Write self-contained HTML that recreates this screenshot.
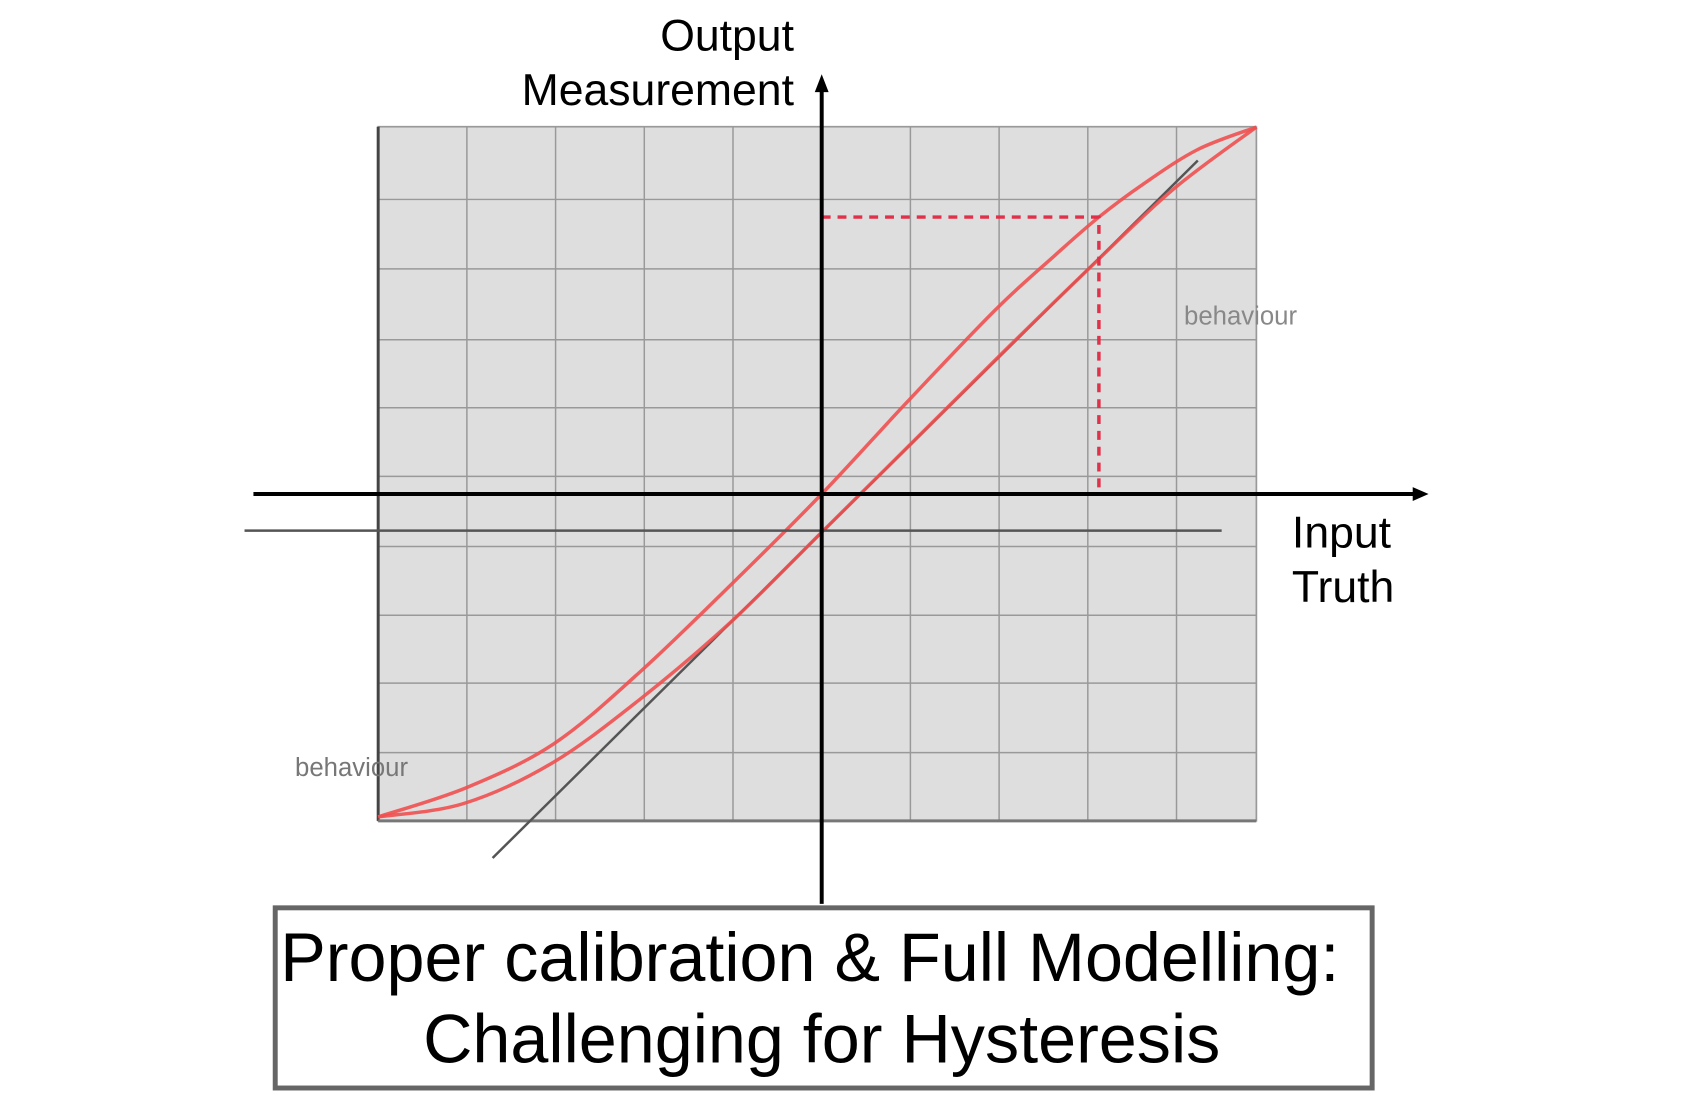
<!DOCTYPE html>
<html><head><meta charset="utf-8"><style>
html,body{margin:0;padding:0;background:#fff;width:1700px;height:1115px;overflow:hidden}
svg{display:block}
text{font-family:"Liberation Sans",sans-serif}
</style></head><body>
<svg id="chart" width="1700" height="1115" viewBox="0 0 1700 1115">
<g transform="scale(0.99,0.99)">
<g id="grid"></g>
<g id="marks"></g>
<g>
  <line x1="256" y1="499" x2="1430" y2="499" stroke="#000" stroke-width="4"/>
  <polygon points="1443,499 1427,492 1427,506" fill="#000"/>
  <line x1="247" y1="536" x2="1234" y2="536" stroke="#555" stroke-width="2.5"/>
  <line x1="830" y1="90" x2="830" y2="913" stroke="#000" stroke-width="4"/>
  <polygon points="830,75 823,93 837,93" fill="#000"/>
</g>
<text x="802" y="51" font-size="45" text-anchor="end">Output</text>
<text x="802" y="106" font-size="45" text-anchor="end">Measurement</text>
<text x="1305" y="553" font-size="45">Input</text>
<text x="1305" y="608" font-size="45">Truth</text>
<text x="1196" y="328" font-size="26" fill="#888">behaviour</text>
<text x="298" y="784" font-size="26" fill="#777">behaviour</text>
<rect x="278" y="917" width="1108" height="182" fill="#fff" stroke="#666" stroke-width="5"/>
<text x="818" y="991" font-size="69" text-anchor="middle">Proper calibration &amp; Full Modelling:</text>
<text x="830" y="1073" font-size="69" text-anchor="middle">Challenging for Hysteresis</text>
</g>
</svg>
<script>
const upperX = [-100,-80,-60.4,-41.3,-20.8,0,19.3,39.3,52.7,62.5,72.4,84.8,98];
const upperY = [-87.9,-79.9,-68,-48.8,-25.1,0,25.1,50.3,65.1,75.4,84.3,93.8,99.9];
const lowerX = [-100,-80.8,-61,-41.3,-20.8,0,19.3,39.3,60.1,79.1,98];
const lowerY = [-87.9,-84.3,-73.4,-56.2,-35.2,-10.4,12.7,36.7,61.2,82.8,99.9];
const fitX = [-74.2,84.8];
const fitY = [-99.1,90.8];
const markerX = [62.5];
const markerY = [75.4];
const xCols = [-100,-80,-60,-40,-20,0,20,40,60,80,98];
const yRows = [-89,-70.4,-51.5,-33,-14.3,4.8,23.5,42,61.3,80.2,100];

const sx = v => 830 + v*4.48;
const sy = v => 499 - v*3.71;
const NS = 'http://www.w3.org/2000/svg';
const grid = document.getElementById('grid');
const marks = document.getElementById('marks');
function mk(tag, attrs, parent){const e=document.createElementNS(NS,tag);for(const k in attrs)e.setAttribute(k,attrs[k]);parent.appendChild(e);return e;}

const bg = mk('rect',{x:sx(-100),y:sy(100),width:sx(98)-sx(-100),height:sy(-89)-sy(100),fill:'#dedede',stroke:'#c8c8e0','stroke-width':2},grid);


xCols.forEach(v=>{
  const l=mk('line',{x1:sx(v),x2:sx(v),y1:sy(100),y2:sy(-89),stroke:'#999','stroke-width':1.5},grid);
  
  
});
yRows.forEach(v=>{
  const l=mk('line',{x1:sx(-100),x2:sx(98),y1:sy(v),y2:sy(v),stroke:'#999','stroke-width':1.5},grid);
  
  
});
const leftEdge=mk('line',{x1:sx(-100),x2:sx(-100),y1:sy(100),y2:sy(-89),stroke:'#444','stroke-width':3},grid);


const botEdge=mk('line',{x1:sx(-100),x2:sx(98),y1:sy(-89),y2:sy(-89),stroke:'#777','stroke-width':3},grid);



function smooth(xs,ys){
  const p=xs.map((x,i)=>[sx(x),sy(ys[i])]);
  let d='M'+p[0][0]+','+p[0][1];
  for(let i=0;i<p.length-1;i++){
    const p0=p[i-1]||p[i],p1=p[i],p2=p[i+1],p3=p[i+2]||p2;
    const c1=[p1[0]+(p2[0]-p0[0])/6,p1[1]+(p2[1]-p0[1])/6];
    const c2=[p2[0]-(p3[0]-p1[0])/6,p2[1]-(p3[1]-p1[1])/6];
    d+=' C'+c1+' '+c2+' '+p2;
  }
  return d;
}
const fit=mk('line',{x1:sx(fitX[0]),y1:sy(fitY[0]),x2:sx(fitX[1]),y2:sy(fitY[1]),stroke:'#555','stroke-width':2.5},marks);


const up=mk('path',{d:smooth(upperX,upperY),fill:'none',stroke:'#f05050','stroke-width':3.5,'stroke-opacity':0.9},marks);


const lo=mk('path',{d:smooth(lowerX,lowerY),fill:'none',stroke:'#f05050','stroke-width':3.5,'stroke-opacity':0.9},marks);


const dh=mk('path',{d:'M'+sx(0)+','+sy(markerY[0])+' H'+sx(markerX[0])+' V'+sy(0),fill:'none',stroke:'#e0304a','stroke-width':3.5,'stroke-dasharray':'9,7'},marks);


</script>
</body></html>
